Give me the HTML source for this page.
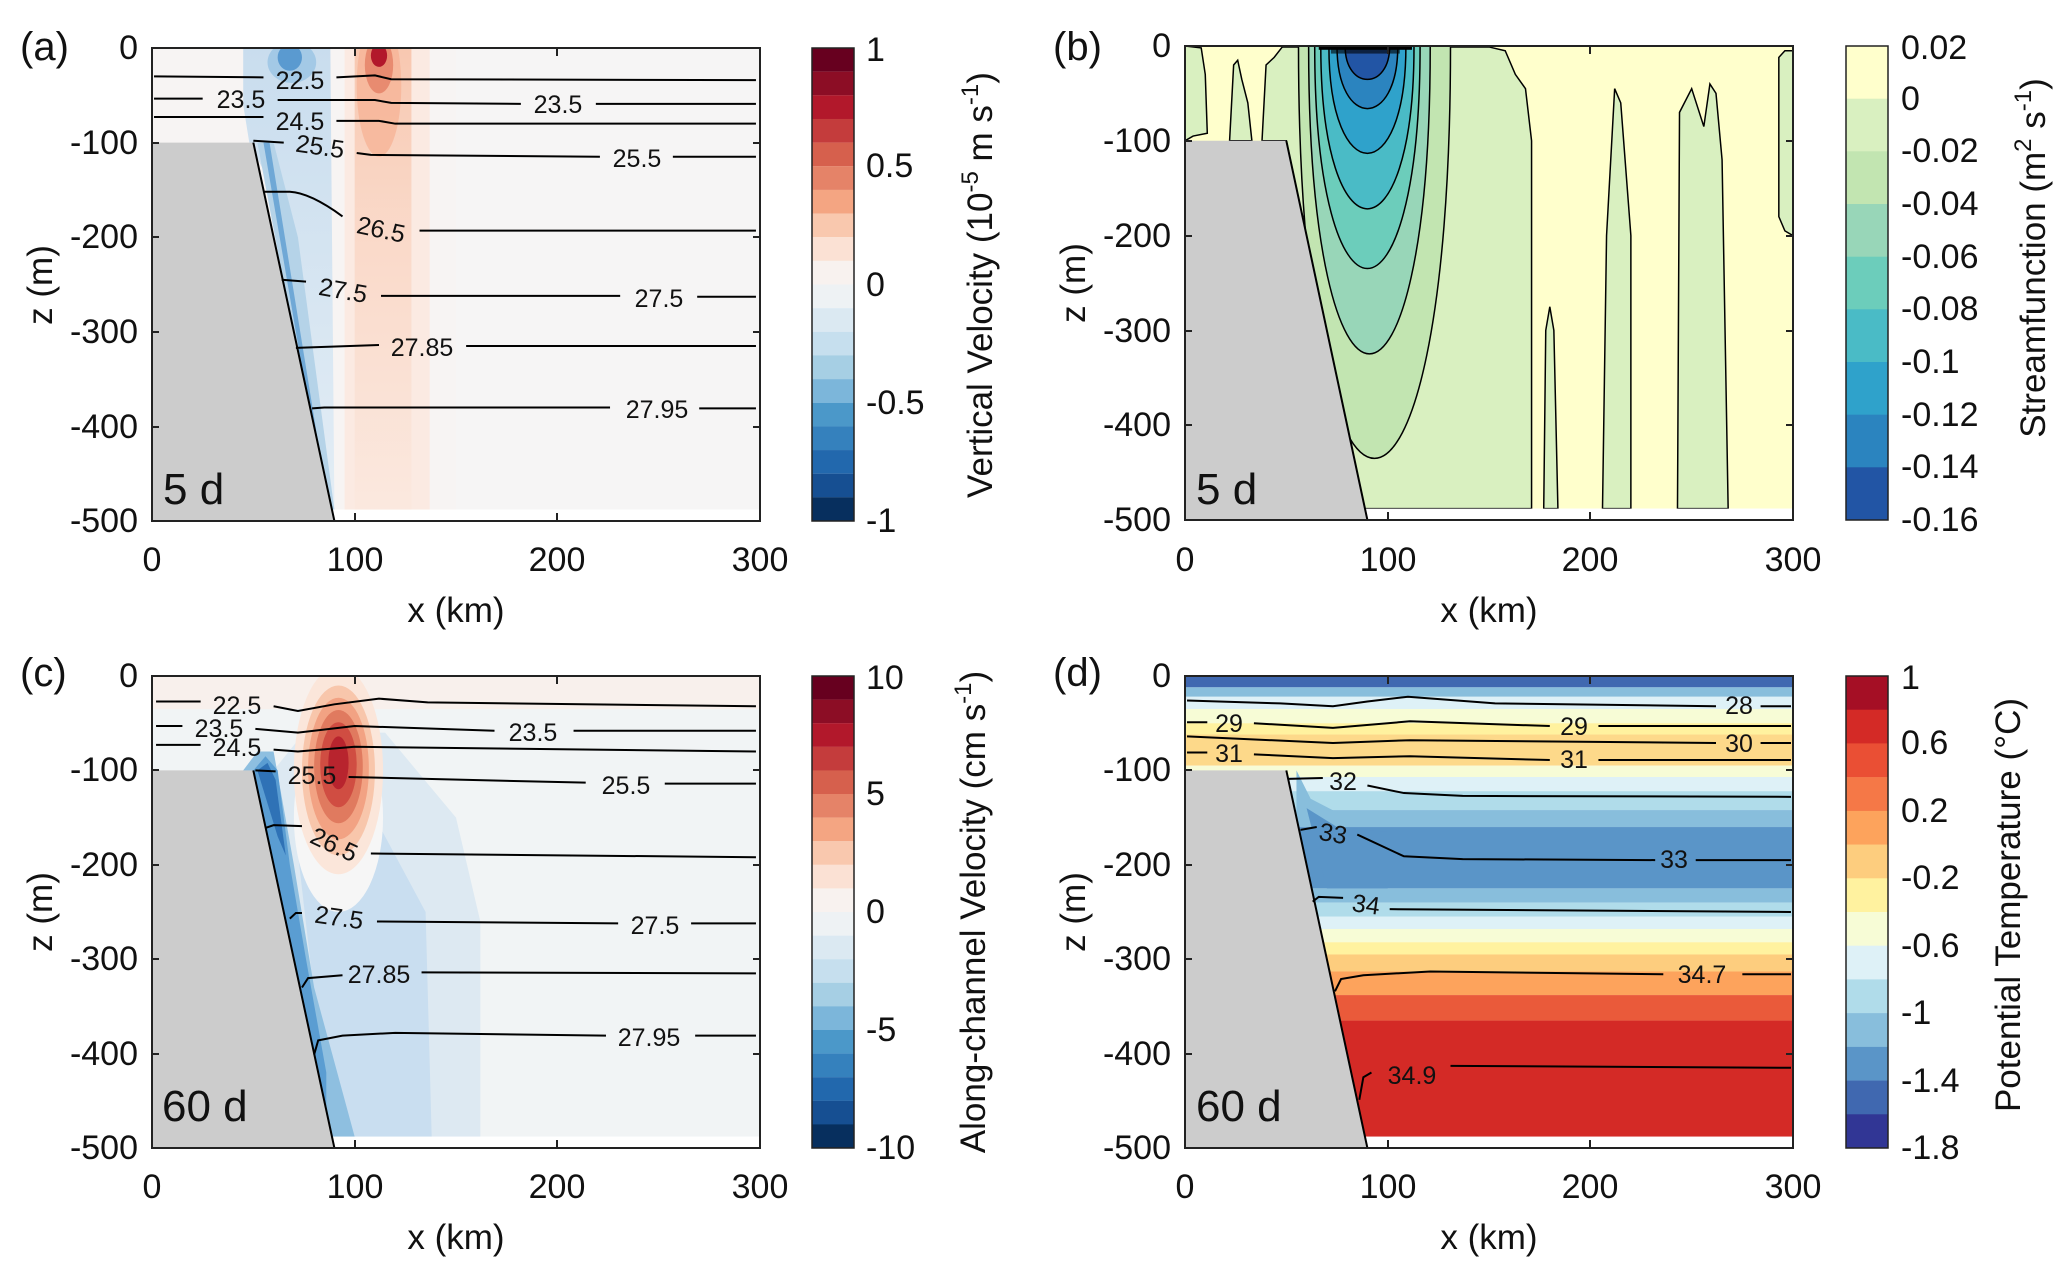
<!DOCTYPE html>
<html><head><meta charset="utf-8"><style>
html,body{margin:0;padding:0;background:#fff}
svg{display:block}
text{font-family:"Liberation Sans",Arial,sans-serif;fill:#111}
.t{font-size:34px}
.cl{font-size:25px}
.pl{font-size:40px}
.dd{font-size:44px}
.ax{font-size:35px}
</style></head><body>
<svg width="2067" height="1275" viewBox="0 0 2067 1275" xmlns="http://www.w3.org/2000/svg">
<defs>
<clipPath id="cp"><rect x="0" y="0" width="300" height="500"/></clipPath>
<linearGradient id="rg" x1="0" y1="0" x2="0" y2="1">
<stop offset="0" stop-color="#f7bfa4"/><stop offset="0.35" stop-color="#f9d3c0"/><stop offset="1" stop-color="#fbe8de"/>
</linearGradient>
<linearGradient id="bg" x1="0" y1="0" x2="0" y2="1">
<stop offset="0" stop-color="#c9ddee"/><stop offset="1" stop-color="#e3edf5"/>
</linearGradient>
</defs>

<!-- ============ PANEL A ============ -->
<g transform="translate(152,48) scale(2.0267,0.946)" clip-path="url(#cp)">
<rect x="0" y="0" width="300" height="488" fill="#f7f4f3"/>
<rect x="150" y="0" width="150" height="488" fill="#f6f5f5"/>
<polygon points="45,0 88,0 90,488 86,488 60,150 48,100 45,60" fill="url(#bg)"/>
<polygon points="52,100 60,100 72,200 90,488 86,488" fill="#b5d3e8"/>
<polygon points="55,100 58,100 86,470 86,488" fill="#6fa8d6"/>
<ellipse cx="69" cy="15" rx="12" ry="22" fill="#a3c9e6"/>
<ellipse cx="68" cy="10" rx="6" ry="14" fill="#5a9ad0"/>
<rect x="95" y="0" width="42" height="488" fill="#fbeae2"/>
<rect x="100" y="0" width="28" height="488" fill="url(#rg)" opacity="0.8"/>
<ellipse cx="112" cy="40" rx="11" ry="75" fill="#f6b497" opacity="0.8"/>
<ellipse cx="112" cy="18" rx="7" ry="30" fill="#e58368" opacity="0.85"/>
<ellipse cx="112" cy="8" rx="4" ry="12" fill="#b2182b"/>
<rect x="86" y="488" width="214" height="12" fill="#fff"/>
<polygon points="0,100 50,100 90,500 0,500" fill="#cccccc"/>
<g fill="none" stroke="#000" stroke-width="2">
<path vector-effect="non-scaling-stroke" d="M50,100 L90,500"/>
<path vector-effect="non-scaling-stroke" d="M1,30 L55,31 M91,31 L110,29 L118,33 L298,34"/>
<path vector-effect="non-scaling-stroke" d="M1,53.5 L25,53.5 M62,55 L110,55 L118,58 L182,59 M219,59 L298,59"/>
<path vector-effect="non-scaling-stroke" d="M1,73 L55,73 M91,77 L112,77 L120,80 L298,80"/>
<path vector-effect="non-scaling-stroke" d="M50,98 L65,100 M101,111 L108,113 L221,115 M257,115 L298,115"/>
<path vector-effect="non-scaling-stroke" d="M55,152 L68,152 Q78,153 94,178 M132,193 L298,193"/>
<path vector-effect="non-scaling-stroke" d="M64,245 L76,247 M113,262 L231,262 M269,263 L298,263"/>
<path vector-effect="non-scaling-stroke" d="M71,317 L112,314 M155,315 L298,315"/>
<path vector-effect="non-scaling-stroke" d="M79,381 L85,380 L226,380 M270,381 L298,381"/>
</g>
</g>
<g class="cl" text-anchor="middle" dominant-baseline="central">
<text x="300" y="81">22.5</text>
<text x="241" y="100">23.5</text>
<text x="558" y="105">23.5</text>
<text x="300" y="122">24.5</text>
<text x="320" y="147" transform="rotate(8 320 147)">25.5</text>
<text x="637" y="159">25.5</text>
<text x="381" y="230" transform="rotate(12 381 230)">26.5</text>
<text x="343" y="291" transform="rotate(10 343 291)">27.5</text>
<text x="659" y="299">27.5</text>
<text x="422" y="348">27.85</text>
<text x="657" y="410">27.95</text>
</g>
<text class="dd" x="163" y="504">5 d</text>

<!-- ============ PANEL B ============ -->
<g transform="translate(1185,46) scale(2.0267,0.948)" clip-path="url(#cp)">
<rect x="0" y="0" width="300" height="488" fill="#ffffcc"/>
<g fill="#d9f0c0" stroke="#000" stroke-width="1.5">
<path vector-effect="non-scaling-stroke" d="M0,0 L8,2 L10,30 L11,92 L4,95 L0,100 Z"/>
<path vector-effect="non-scaling-stroke" d="M22,100 L24,20 L26,15 L28,35 L31,60 L33,100 Z"/>
<path vector-effect="non-scaling-stroke" d="M38,100 L40,20 L44,12 L48,1 L150,1 L158,5 L163,30 L168,45 L171,100 L171,488 L88,488 L50,100 Z"/>
<path vector-effect="non-scaling-stroke" d="M177,488 L178,300 L180,275 L182,300 L184,488 Z"/>
<path vector-effect="non-scaling-stroke" d="M206,488 L208,200 L212,45 L215,60 L220,200 L220,488 Z"/>
<path vector-effect="non-scaling-stroke" d="M243,488 L244,70 L250,45 L256,85 L259,40 L262,50 L265,120 L268,488 Z"/>
<path vector-effect="non-scaling-stroke" d="M300,5 L296,5 L293,12 L293,180 L296,195 L300,200 Z"/>
<path vector-effect="non-scaling-stroke" fill="#c2e5b1" d="M56,0 C56,580 131,580 131,0 Z"/>
<path vector-effect="non-scaling-stroke" fill="#98d6b8" d="M61,0 C61,433 121,433 121,0 Z"/>
<path vector-effect="non-scaling-stroke" fill="#6ccdbb" d="M64,0 C64,313 116,313 116,0 Z"/>
<path vector-effect="non-scaling-stroke" fill="#4abbc6" d="M67,0 C67,229 113,229 113,0 Z"/>
<path vector-effect="non-scaling-stroke" fill="#2fa2cb" d="M71,0 C71,151 109,151 109,0 Z"/>
<path vector-effect="non-scaling-stroke" fill="#2b84bf" d="M75,0 C75,88 105,88 105,0 Z"/>
<path vector-effect="non-scaling-stroke" fill="#2255a5" d="M79,0 C79,47 101,47 101,0 Z"/>
</g>
<rect x="66" y="0" width="46" height="4" fill="#000"/>
<rect x="72" y="0" width="34" height="8" fill="#000" opacity="0.6"/>
<rect x="86" y="488" width="214" height="12" fill="#fff"/>
<polygon points="0,100 50,100 90,500 0,500" fill="#cccccc"/>
<path vector-effect="non-scaling-stroke" d="M50,100 L90,500" stroke="#000" stroke-width="2" fill="none"/>
</g>
<text class="dd" x="1196" y="504">5 d</text>

<!-- ============ PANEL C ============ -->
<g transform="translate(152,676) scale(2.0267,0.944)" clip-path="url(#cp)">
<rect x="0" y="0" width="300" height="488" fill="#f1f4f5"/>
<rect x="0" y="0" width="300" height="35" fill="#f8f0ec"/>
<polygon points="60,100 75,60 115,60 150,150 162,260 162,488 88,488" fill="#dde9f2"/>
<polygon points="70,150 110,150 135,250 138,488 88,488" fill="#c9def0"/>
<polygon points="45,100 52,80 60,80 70,200 80,330 100,488 86,488" fill="#8ebfe0"/>
<polygon points="50,100 56,85 62,100 68,200 76,300 86,420 86,470" fill="#5a9dd2"/>
<polygon points="52,100 57,92 61,110 66,190 62,170" fill="#2f72b6"/>
<ellipse cx="92" cy="150" rx="22" ry="100" fill="#f6f6f6"/>
<ellipse cx="92" cy="100" rx="22" ry="110" fill="#fbe6da"/>
<ellipse cx="92" cy="100" rx="18" ry="90" fill="#f8c6ab"/>
<ellipse cx="92" cy="98" rx="15" ry="75" fill="#f2a283"/>
<ellipse cx="92" cy="96" rx="12" ry="60" fill="#e07a5f"/>
<ellipse cx="92" cy="94" rx="9" ry="45" fill="#d04d42"/>
<ellipse cx="92" cy="92" rx="5" ry="28" fill="#b8242e"/>
<rect x="86" y="488" width="214" height="12" fill="#fff"/>
<polygon points="0,100 50,100 90,500 0,500" fill="#cccccc"/>
<g fill="none" stroke="#000" stroke-width="2">
<path vector-effect="non-scaling-stroke" d="M50,100 L90,500"/>
<path vector-effect="non-scaling-stroke" d="M2,27 L24,27 M60,32 L72,37 L90,30 L112,24 L136,28 L298,32"/>
<path vector-effect="non-scaling-stroke" d="M2,53 L15,53 M51,56 L72,60 L100,53 L169,58 M208,58 L298,58"/>
<path vector-effect="non-scaling-stroke" d="M2,73 L24,73 M60,78 L72,80 L100,75 L298,80"/>
<path vector-effect="non-scaling-stroke" d="M51,100 L61,101 M97,107 L214,113 M253,114 L298,114"/>
<path vector-effect="non-scaling-stroke" d="M56,161 L60,158 L74,159 M108,188 L298,192"/>
<path vector-effect="non-scaling-stroke" d="M68,257 L71,251 L74,251 M111,260 L230,262 M266,262 L298,262"/>
<path vector-effect="non-scaling-stroke" d="M74,330 L77,320 L94,317 M133,314 L298,315"/>
<path vector-effect="non-scaling-stroke" d="M80,401 L82,386 L94,381 L120,378 L224,381 M268,381 L298,381"/>
</g>
</g>
<g class="cl" text-anchor="middle" dominant-baseline="central">
<text x="237" y="706">22.5</text>
<text x="219" y="729">23.5</text>
<text x="533" y="733">23.5</text>
<text x="237" y="748">24.5</text>
<text x="312" y="776">25.5</text>
<text x="626" y="786">25.5</text>
<text x="334" y="845" transform="rotate(25 334 845)">26.5</text>
<text x="339" y="918" transform="rotate(8 339 918)">27.5</text>
<text x="655" y="926">27.5</text>
<text x="379" y="975">27.85</text>
<text x="649" y="1038">27.95</text>
</g>
<text class="dd" x="162" y="1121">60 d</text>

<!-- ============ PANEL D ============ -->
<g transform="translate(1185,676) scale(2.0267,0.944)" clip-path="url(#cp)">
<rect x="0" y="0" width="300" height="12" fill="#4068b0"/>
<rect x="0" y="12" width="300" height="10" fill="#88bedc"/>
<rect x="0" y="22" width="300" height="13" fill="#def1f7"/>
<rect x="0" y="35" width="300" height="15" fill="#f7fcd6"/>
<rect x="0" y="50" width="300" height="12" fill="#fff29f"/>
<rect x="0" y="62" width="300" height="33" fill="#fdd98a"/>
<rect x="0" y="95" width="300" height="12" fill="#f7fcd6"/>
<rect x="0" y="107" width="300" height="15" fill="#def1f7"/>
<rect x="0" y="122" width="300" height="20" fill="#b0dcea"/>
<rect x="0" y="142" width="300" height="18" fill="#88bedc"/>
<rect x="0" y="160" width="300" height="65" fill="#5a95c8"/>
<rect x="0" y="225" width="300" height="15" fill="#88bedc"/>
<rect x="0" y="240" width="300" height="15" fill="#b0dcea"/>
<rect x="0" y="255" width="300" height="13" fill="#def1f7"/>
<rect x="0" y="268" width="300" height="14" fill="#f7fcd6"/>
<rect x="0" y="282" width="300" height="13" fill="#fff29f"/>
<rect x="0" y="295" width="300" height="18" fill="#fdcd7e"/>
<rect x="0" y="313" width="300" height="25" fill="#fda35c"/>
<rect x="0" y="338" width="300" height="27" fill="#ea5a3a"/>
<rect x="0" y="365" width="300" height="123" fill="#d42a26"/>
<path d="M55,100 L62,130 L80,150 L100,160 L55,160 Z" fill="#88bedc"/>
<path d="M60,140 L75,160 L100,165 L100,225 L70,225 Z" fill="#5a95c8"/>
<rect x="86" y="488" width="214" height="12" fill="#fff"/>
<polygon points="0,100 50,100 90,500 0,500" fill="#cccccc"/>
<g fill="none" stroke="#000" stroke-width="2">
<path vector-effect="non-scaling-stroke" d="M50,100 L90,500"/>
<path vector-effect="non-scaling-stroke" d="M1,26 L47,29 L73,32 L90,27 L110,22 L153,29 L262,32 M284,32 L299,32"/>
<path vector-effect="non-scaling-stroke" d="M1,49 L11,49 M34,50 L73,55 L111,48 L180,53 M204,53 L299,53"/>
<path vector-effect="non-scaling-stroke" d="M1,64 L73,71 L111,68 L262,71 M284,71 L299,71"/>
<path vector-effect="non-scaling-stroke" d="M1,81 L11,81 M34,83 L73,87 L111,85 L180,89 M204,89 L299,89"/>
<path vector-effect="non-scaling-stroke" d="M51,109 L68,108 M90,116 L108,124 L137,127 L299,128"/>
<path vector-effect="non-scaling-stroke" d="M57,163 L65,160 M85,168 L108,191 L137,194 L232,195 M252,195 L299,195"/>
<path vector-effect="non-scaling-stroke" d="M63,239 L66,234 L78,235 M101,247 L299,250"/>
<path vector-effect="non-scaling-stroke" d="M74,334 L77,321 L88,317 L121,313 L236,316 M275,316 L299,316"/>
<path vector-effect="non-scaling-stroke" d="M86,449 L88,425 L92,420 M131,413 L299,415"/>
</g>
</g>
<g class="cl" text-anchor="middle" dominant-baseline="central">
<text x="1739" y="706">28</text>
<text x="1229" y="724">29</text>
<text x="1574" y="727">29</text>
<text x="1739" y="744">30</text>
<text x="1229" y="754">31</text>
<text x="1574" y="760">31</text>
<text x="1343" y="782">32</text>
<text x="1333" y="834" transform="rotate(10 1333 834)">33</text>
<text x="1674" y="860">33</text>
<text x="1366" y="905" transform="rotate(8 1366 905)">34</text>
<text x="1702" y="975">34.7</text>
<text x="1412" y="1076">34.9</text>
</g>
<text class="dd" x="1196" y="1121">60 d</text>

<!-- ============ AXES FRAMES & TICKS ============ -->
<g fill="none" stroke="#222" stroke-width="2">
<rect x="152" y="48" width="608" height="473"/>
<rect x="1185" y="46" width="608" height="474"/>
<rect x="152" y="676" width="608" height="472"/>
<rect x="1185" y="676" width="608" height="472"/>
<path d="M355,48v8M557,48v8M355,521v-8M557,521v-8M152,143h7M152,237h7M152,332h7M152,427h7M760,143h-7M760,237h-7M760,332h-7M760,427h-7"/>
<path d="M1388,46v8M1590,46v8M1388,520v-8M1590,520v-8M1185,141h7M1185,236h7M1185,331h7M1185,425h7M1793,141h-7M1793,236h-7M1793,331h-7M1793,425h-7"/>
<path d="M355,676v8M557,676v8M355,1148v-8M557,1148v-8M152,770h7M152,865h7M152,959h7M152,1054h7M760,770h-7M760,865h-7M760,959h-7M760,1054h-7"/>
<path d="M1388,676v8M1590,676v8M1388,1148v-8M1590,1148v-8M1185,770h7M1185,865h7M1185,959h7M1185,1054h7M1793,770h-7M1793,865h-7M1793,959h-7M1793,1054h-7"/>
</g>

<!-- tick labels -->
<g class="t" text-anchor="end" dominant-baseline="central">
<text x="138" y="48">0</text><text x="138" y="143">-100</text><text x="138" y="237">-200</text><text x="138" y="332">-300</text><text x="138" y="427">-400</text><text x="138" y="521">-500</text>
<text x="1171" y="46">0</text><text x="1171" y="141">-100</text><text x="1171" y="236">-200</text><text x="1171" y="331">-300</text><text x="1171" y="425">-400</text><text x="1171" y="520">-500</text>
<text x="138" y="676">0</text><text x="138" y="770">-100</text><text x="138" y="865">-200</text><text x="138" y="959">-300</text><text x="138" y="1054">-400</text><text x="138" y="1148">-500</text>
<text x="1171" y="676">0</text><text x="1171" y="770">-100</text><text x="1171" y="865">-200</text><text x="1171" y="959">-300</text><text x="1171" y="1054">-400</text><text x="1171" y="1148">-500</text>
</g>
<g class="t" text-anchor="middle">
<text x="152" y="571">0</text><text x="355" y="571">100</text><text x="557" y="571">200</text><text x="760" y="571">300</text>
<text x="1185" y="571">0</text><text x="1388" y="571">100</text><text x="1590" y="571">200</text><text x="1793" y="571">300</text>
<text x="152" y="1198">0</text><text x="355" y="1198">100</text><text x="557" y="1198">200</text><text x="760" y="1198">300</text>
<text x="1185" y="1198">0</text><text x="1388" y="1198">100</text><text x="1590" y="1198">200</text><text x="1793" y="1198">300</text>
</g>
<g class="ax" text-anchor="middle">
<text x="456" y="622">x (km)</text>
<text x="1489" y="622">x (km)</text>
<text x="456" y="1249">x (km)</text>
<text x="1489" y="1249">x (km)</text>
<text transform="translate(52,285) rotate(-90)">z (m)</text>
<text transform="translate(1085,283) rotate(-90)">z (m)</text>
<text transform="translate(52,912) rotate(-90)">z (m)</text>
<text transform="translate(1085,912) rotate(-90)">z (m)</text>
</g>
<g class="pl">
<text x="20" y="60">(a)</text>
<text x="1053" y="60">(b)</text>
<text x="20" y="686">(c)</text>
<text x="1053" y="686">(d)</text>
</g>

<!-- ============ COLORBARS ============ -->
<g>
<rect x="812" y="48.00" width="42" height="23.7" fill="#67001f"/>
<rect x="812" y="71.65" width="42" height="23.7" fill="#8c0d25"/>
<rect x="812" y="95.30" width="42" height="23.7" fill="#b2182b"/>
<rect x="812" y="118.95" width="42" height="23.7" fill="#c43c3c"/>
<rect x="812" y="142.60" width="42" height="23.7" fill="#d6604d"/>
<rect x="812" y="166.25" width="42" height="23.7" fill="#e58368"/>
<rect x="812" y="189.90" width="42" height="23.7" fill="#f4a582"/>
<rect x="812" y="213.55" width="42" height="23.7" fill="#f9c8ae"/>
<rect x="812" y="237.20" width="42" height="23.7" fill="#fbe1d4"/>
<rect x="812" y="260.85" width="42" height="23.7" fill="#f8f2ef"/>
<rect x="812" y="284.50" width="42" height="23.7" fill="#eef2f4"/>
<rect x="812" y="308.15" width="42" height="23.7" fill="#dbe9f2"/>
<rect x="812" y="331.80" width="42" height="23.7" fill="#c6dfee"/>
<rect x="812" y="355.45" width="42" height="23.7" fill="#a6cfe4"/>
<rect x="812" y="379.10" width="42" height="23.7" fill="#7cb6da"/>
<rect x="812" y="402.75" width="42" height="23.7" fill="#4b98c9"/>
<rect x="812" y="426.40" width="42" height="23.7" fill="#3581bd"/>
<rect x="812" y="450.05" width="42" height="23.7" fill="#2268ad"/>
<rect x="812" y="473.70" width="42" height="23.7" fill="#164f92"/>
<rect x="812" y="497.35" width="42" height="23.65" fill="#072f5e"/>
<rect x="812" y="48" width="42" height="473" fill="none" stroke="#222" stroke-width="1.5"/>
</g>
<g>
<rect x="812" y="676.0" width="42" height="23.7" fill="#67001f"/>
<rect x="812" y="699.6" width="42" height="23.7" fill="#8c0d25"/>
<rect x="812" y="723.2" width="42" height="23.7" fill="#b2182b"/>
<rect x="812" y="746.8" width="42" height="23.7" fill="#c43c3c"/>
<rect x="812" y="770.4" width="42" height="23.7" fill="#d6604d"/>
<rect x="812" y="794.0" width="42" height="23.7" fill="#e58368"/>
<rect x="812" y="817.6" width="42" height="23.7" fill="#f4a582"/>
<rect x="812" y="841.2" width="42" height="23.7" fill="#f9c8ae"/>
<rect x="812" y="864.8" width="42" height="23.7" fill="#fbe1d4"/>
<rect x="812" y="888.4" width="42" height="23.7" fill="#f8f2ef"/>
<rect x="812" y="912.0" width="42" height="23.7" fill="#eef2f4"/>
<rect x="812" y="935.6" width="42" height="23.7" fill="#dbe9f2"/>
<rect x="812" y="959.2" width="42" height="23.7" fill="#c6dfee"/>
<rect x="812" y="982.8" width="42" height="23.7" fill="#a6cfe4"/>
<rect x="812" y="1006.4" width="42" height="23.7" fill="#7cb6da"/>
<rect x="812" y="1030.0" width="42" height="23.7" fill="#4b98c9"/>
<rect x="812" y="1053.6" width="42" height="23.7" fill="#3581bd"/>
<rect x="812" y="1077.2" width="42" height="23.7" fill="#2268ad"/>
<rect x="812" y="1100.8" width="42" height="23.7" fill="#164f92"/>
<rect x="812" y="1124.4" width="42" height="23.6" fill="#072f5e"/>
<rect x="812" y="676" width="42" height="472" fill="none" stroke="#222" stroke-width="1.5"/>
</g>
<g>
<rect x="1846" y="46" width="42" height="53" fill="#ffffcc"/>
<rect x="1846" y="98.7" width="42" height="53" fill="#d9f0c0"/>
<rect x="1846" y="151.3" width="42" height="53" fill="#c2e5b1"/>
<rect x="1846" y="204" width="42" height="53" fill="#98d6b8"/>
<rect x="1846" y="256.7" width="42" height="53" fill="#6ccdbb"/>
<rect x="1846" y="309.3" width="42" height="53" fill="#4abbc6"/>
<rect x="1846" y="362" width="42" height="53" fill="#2fa2cb"/>
<rect x="1846" y="414.7" width="42" height="53" fill="#2b84bf"/>
<rect x="1846" y="467.3" width="42" height="52.7" fill="#2255a5"/>
<rect x="1846" y="46" width="42" height="474" fill="none" stroke="#222" stroke-width="1.5"/>
</g>
<g>
<rect x="1846" y="676" width="42" height="34" fill="#a50f25"/>
<rect x="1846" y="709.7" width="42" height="34" fill="#d42a26"/>
<rect x="1846" y="743.4" width="42" height="34" fill="#ea4f34"/>
<rect x="1846" y="777.1" width="42" height="34" fill="#f57847"/>
<rect x="1846" y="810.9" width="42" height="34" fill="#fda35c"/>
<rect x="1846" y="844.6" width="42" height="34" fill="#fdcd7e"/>
<rect x="1846" y="878.3" width="42" height="34" fill="#fff29f"/>
<rect x="1846" y="912" width="42" height="34" fill="#f7fcd6"/>
<rect x="1846" y="945.7" width="42" height="34" fill="#def1f7"/>
<rect x="1846" y="979.4" width="42" height="34" fill="#b0dcea"/>
<rect x="1846" y="1013.1" width="42" height="34" fill="#88bedc"/>
<rect x="1846" y="1046.9" width="42" height="34" fill="#5a95c8"/>
<rect x="1846" y="1080.6" width="42" height="34" fill="#4068b0"/>
<rect x="1846" y="1114.3" width="42" height="33.7" fill="#313695"/>
<rect x="1846" y="676" width="42" height="472" fill="none" stroke="#222" stroke-width="1.5"/>
</g>
<g class="t" dominant-baseline="central">
<text x="866" y="50">1</text><text x="866" y="166">0.5</text><text x="866" y="285">0</text><text x="866" y="403">-0.5</text><text x="866" y="521">-1</text>
<text x="866" y="678">10</text><text x="866" y="794">5</text><text x="866" y="912">0</text><text x="866" y="1030">-5</text><text x="866" y="1148">-10</text>
<text x="1901" y="48">0.02</text><text x="1901" y="99">0</text><text x="1901" y="151">-0.02</text><text x="1901" y="204">-0.04</text><text x="1901" y="257">-0.06</text><text x="1901" y="309">-0.08</text><text x="1901" y="362">-0.1</text><text x="1901" y="415">-0.12</text><text x="1901" y="467">-0.14</text><text x="1901" y="520">-0.16</text>
<text x="1901" y="678">1</text><text x="1901" y="743">0.6</text><text x="1901" y="811">0.2</text><text x="1901" y="878">-0.2</text><text x="1901" y="946">-0.6</text><text x="1901" y="1013">-1</text><text x="1901" y="1081">-1.4</text><text x="1901" y="1148">-1.8</text>
</g>
<g class="ax" text-anchor="middle">
<text transform="translate(992,285) rotate(-90)">Vertical Velocity (10<tspan dy="-14" font-size="24">-5</tspan><tspan dy="14"> m s</tspan><tspan dy="-14" font-size="24">-1</tspan><tspan dy="14">)</tspan></text>
<text transform="translate(2045,258) rotate(-90)">Streamfunction (m<tspan dy="-14" font-size="24">2</tspan><tspan dy="14"> s</tspan><tspan dy="-14" font-size="24">-1</tspan><tspan dy="14">)</tspan></text>
<text transform="translate(985,912) rotate(-90)">Along-channel Velocity (cm s<tspan dy="-14" font-size="24">-1</tspan><tspan dy="14">)</tspan></text>
<text transform="translate(2020,905) rotate(-90)">Potential Temperature (°C)</text>
</g>
</svg>
</body></html>
